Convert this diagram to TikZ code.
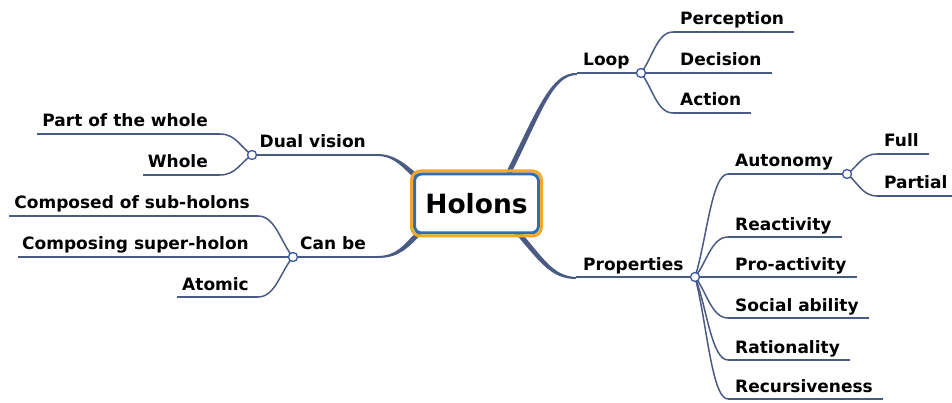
\documentclass[tikz,border=0pt]{standalone}
\usepackage{fontspec}
\setmainfont{DejaVu Sans}
\usetikzlibrary{calc}
\definecolor{linec}{HTML}{4B5A82}
\definecolor{hubc}{HTML}{3A55A5}
\definecolor{corebl}{HTML}{2F6DB5}
\definecolor{coreor}{HTML}{F2A72E}
\newcommand\twigto[2]{\draw[twig] (#1) .. controls ($(#1)!0.35!(#2)$) and ($(#2)!0.5!(#1 |- #2)$) .. (#2);}
\begin{document}
\begin{tikzpicture}[x=1pt,y=-1pt,
 lab/.style={inner sep=0pt, font=\fontsize{17}{20}\selectfont\bfseries},
 twig/.style={draw=linec, line width=1.5pt},
 hub/.style={circle, draw=hubc, fill=white, line width=1.3pt, minimum size=9pt, inner sep=0pt},
 taper/.style={fill=linec},
 core/.style={rectangle, rounded corners=7pt, draw=corebl, line width=3pt, fill=white,
   minimum width=124pt, minimum height=59pt, inner sep=0pt,
   font=\fontsize{26.5}{30}\selectfont\bfseries}]
\useasboundingbox (0,0) rectangle (952,403);

% hub coordinates
\coordinate (loopc) at (641,73);
\coordinate (propc) at (695,277);
\coordinate (autoc) at (847,174);
\coordinate (dualc) at (252,155);
\coordinate (canc) at (293,257);

% branch start coordinates
\coordinate (loopst) at (577,73);
\coordinate (propst) at (576,277);
\coordinate (dualst) at (377,155);
\coordinate (canst) at (377,257);

% main labels
\node[lab, anchor=base west] (loop) at (583,66) {Loop};
\node[lab, anchor=base west] (props) at (583,270) {Properties};
\node[lab, anchor=base east] (dual) at (366,148) {Dual vision};
\node[lab, anchor=base east] (canbe) at (366,250) {Can be};

% Loop children
\node[lab, anchor=base west] (perc) at (680,25) {Perception};
\node[lab, anchor=base west] (dec) at (680,66) {Decision};
\node[lab, anchor=base west] (act) at (680,106) {Action};
\coordinate (percs) at (673,32);
\coordinate (acts) at (673,113);

% Properties children
\node[lab, anchor=base west] (auto) at (735,167) {Autonomy};
\node[lab, anchor=base west] (react) at (735,230) {Reactivity};
\node[lab, anchor=base west] (proact) at (735,270) {Pro-activity};
\node[lab, anchor=base west] (social) at (735,311) {Social ability};
\node[lab, anchor=base west] (ration) at (735,353) {Rationality};
\node[lab, anchor=base west] (recur) at (735,392) {Recursiveness};
\coordinate (autos) at (728,174);
\coordinate (reacts) at (728,237);
\coordinate (socials) at (728,318);
\coordinate (rations) at (728,360);
\coordinate (recurs) at (728,399);

% Autonomy children
\node[lab, anchor=base west] (full) at (884,147) {Full};
\node[lab, anchor=base west] (part) at (884,189) {Partial};
\coordinate (fulls) at (877,154);
\coordinate (parts) at (877,196);

% Dual vision children
\node[lab, anchor=base east] (pow) at (208,127) {Part of the whole};
\node[lab, anchor=base east] (whole) at (208,168) {Whole};
\coordinate (pows) at (220,134);
\coordinate (wholes) at (220,175);

% Can be children
\node[lab, anchor=base east] (comp) at (250,209) {Composed of sub-holons};
\node[lab, anchor=base east] (sup) at (249,250) {Composing super-holon};
\node[lab, anchor=base east] (atom) at (249,290) {Atomic};
\coordinate (comps) at (258,216);
\coordinate (atoms) at (258,297);

% thick tapered connectors
\fill[taper] (505,180) -- (507.7,169) .. controls (537.7,109) and (551,72) .. (loopst) -- ++(0,2) .. controls (553,75) and (542.3,111) .. (512.3,171) -- (511,182) -- cycle;
\fill[taper] (512,226) -- (521.9,233.4) .. controls (545,260.5) and (554,276) .. (propst) -- ++(0,2) .. controls (552,279) and (541,263.5) .. (518.1,236.6) -- (506,230) -- cycle;
\fill[taper] (dualst) -- ++(0,-1) .. controls (395,154) and (405.6,164.1) .. (419.6,176.1) -- (425,182) -- (416.4,179.9) .. controls (402.4,167.9) and (395,156) .. (377,156) -- cycle;
\fill[taper] (canst) -- ++(0,-1) .. controls (397,256) and (403.2,245.2) .. (418.2,230.2) -- (425,226) -- (421.8,233.8) .. controls (406.8,248.8) and (399,258) .. (377,258) -- cycle;

% main underlines
\draw[twig] (loopst) -- (loopc);
\draw[twig] (propst) -- (propc);
\draw[twig] (dualst) -- (dualc);
\draw[twig] (canst) -- (canc);

% Loop branches
\twigto{loopc}{percs}
\twigto{loopc}{acts}
\draw[twig] (percs) -- ($(perc.base east)+(10,7)$);
\draw[twig] (loopc) -- ($(dec.base east)+(10,7)$);
\draw[twig] (acts) -- ($(act.base east)+(10,7)$);

% Properties branches
\twigto{propc}{autos}
\twigto{propc}{reacts}
\twigto{propc}{socials}
\twigto{propc}{rations}
\twigto{propc}{recurs}
\draw[twig] (autos) -- (autoc);
\draw[twig] (reacts) -- ($(react.base east)+(10,7)$);
\draw[twig] (propc) -- ($(proact.base east)+(10,7)$);
\draw[twig] (socials) -- ($(social.base east)+(10,7)$);
\draw[twig] (rations) -- ($(ration.base east)+(10,7)$);
\draw[twig] (recurs) -- ($(recur.base east)+(10,7)$);

% Autonomy branches
\twigto{autoc}{fulls}
\twigto{autoc}{parts}
\draw[twig] (fulls) -- ($(full.base east)+(10,7)$);
\draw[twig] (parts) -- ($(part.base east)+(10,7)$);

% Dual vision branches
\twigto{dualc}{pows}
\twigto{dualc}{wholes}
\draw[twig] (pows) -- ($(pow.base west)+(-5,7)$);
\draw[twig] (wholes) -- ($(whole.base west)+(-5,7)$);

% Can be branches
\twigto{canc}{comps}
\twigto{canc}{atoms}
\draw[twig] (comps) -- ($(comp.base west)+(-5,7)$);
\draw[twig] (canc) -- ($(sup.base west)+(-4,7)$);
\draw[twig] (atoms) -- ($(atom.base west)+(-5,7)$);

% hubs
\node[hub] (loophub) at (loopc) {};
\node[hub] (prophub) at (propc) {};
\node[hub] (autohub) at (autoc) {};
\node[hub] (dualhub) at (dualc) {};
\node[hub] (canhub) at (canc) {};

% centre
\node[core] (holons) at (476.5,203.5) {Holons};
\draw[coreor, line width=3pt, rounded corners=9pt] ($(holons.south west)+(-1.5,1.5)$) rectangle ($(holons.north east)+(1.5,-1.5)$);
\end{tikzpicture}
\end{document}
